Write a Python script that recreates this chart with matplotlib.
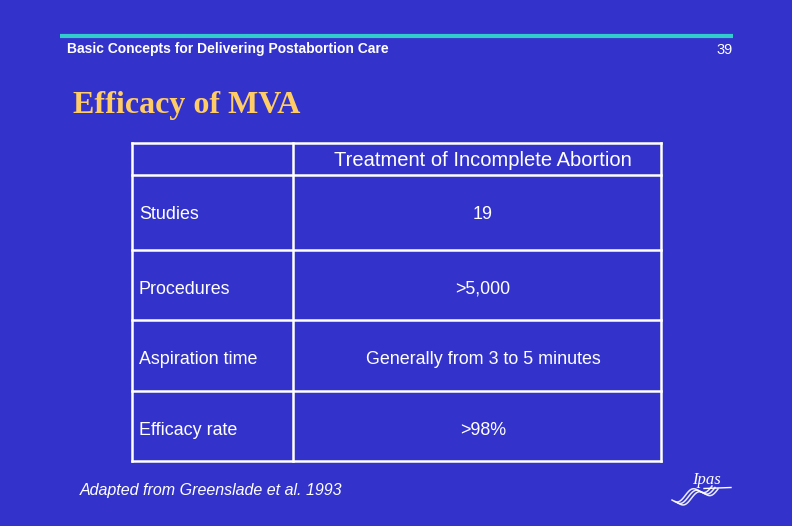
import matplotlib
matplotlib.use("Agg")
import matplotlib.pyplot as plt
import numpy as np

# slide content
header_text = "Basic Concepts for Delivering Postabortion Care"
page_number = "39"
title = "Efficacy of MVA"
column_header = "Treatment of Incomplete Abortion"
row_labels = ["Studies", "Procedures", "Aspiration time", "Efficacy rate"]
row_values = ["19", ">5,000", "Generally from 3 to 5 minutes", ">98%"]
source_note = "Adapted from Greenslade et al. 1993"

BG = "#3333cc"
WHITE = "white"
ORANGE = "#ffcc66"
CYAN = "#33cccc"

fig = plt.figure(figsize=(7.92, 5.26), dpi=100, facecolor=BG)
ax = fig.add_axes([0, 0, 1, 1])
ax.set_xlim(0, 792)
ax.set_ylim(526, 0)
ax.axis("off")
ax.set_facecolor(BG)

# header bar
ax.plot([60, 733], [36, 36], color=CYAN, lw=3, solid_capstyle="butt")
ax.text(67, 48.5, header_text, color=WHITE, fontsize=10, fontweight="bold",
        family="Liberation Sans", va="center", ha="left")
ax.text(733, 49.5, page_number, color=WHITE, fontsize=10.5,
        family="Liberation Sans", va="center", ha="right")

# title
ax.text(73, 106, title, color=ORANGE, fontsize=23, fontweight="bold",
        family="Liberation Serif", va="center", ha="left")

# table grid
left, mid, right = 132, 293, 661
row_edges = [143, 175, 250, 320, 391, 461]
lw = 1.8
for y in row_edges:
    ax.plot([left, right], [y, y], color=WHITE, lw=lw, solid_capstyle="projecting")
for x in [left, mid, right]:
    ax.plot([x, x], [row_edges[0], row_edges[-1]], color=WHITE, lw=lw,
            solid_capstyle="projecting")

value_x = 483
ax.text(value_x, 160, column_header, color=WHITE, fontsize=14.5,
        family="Liberation Sans", va="center", ha="center")

text_y = [214.5, 289.5, 359.5, 430.5]
for label, val, y in zip(row_labels, row_values, text_y):
    ax.text(139, y, label, color=WHITE, fontsize=12.9,
            family="Liberation Sans", va="center", ha="left")
    ax.text(value_x, y, val, color=WHITE, fontsize=12.9,
            family="Liberation Sans", va="center", ha="center")

# source note
ax.text(80, 490, source_note, color=WHITE, fontsize=11.5, style="italic",
        family="Liberation Sans", va="center", ha="left")

# Ipas logo
ax.text(706, 480, "Ipas", color=WHITE, fontsize=12, style="italic",
        family="Liberation Serif", va="center", ha="center")
ax.plot([704, 731], [488.5, 487.5], color=WHITE, lw=1)
t = np.linspace(0, 1, 80)
for dx, dy in [(0, 0), (3, 1.5), (6, 3)]:
    xs = 672 + dx + 40 * t
    ys = 500 + dy - 14 * t + 4 * np.sin(3 * np.pi * t)
    ax.plot(xs, ys, color=WHITE, lw=1.1, alpha=0.9)

fig.savefig("out.png", dpi=100, facecolor=BG)
